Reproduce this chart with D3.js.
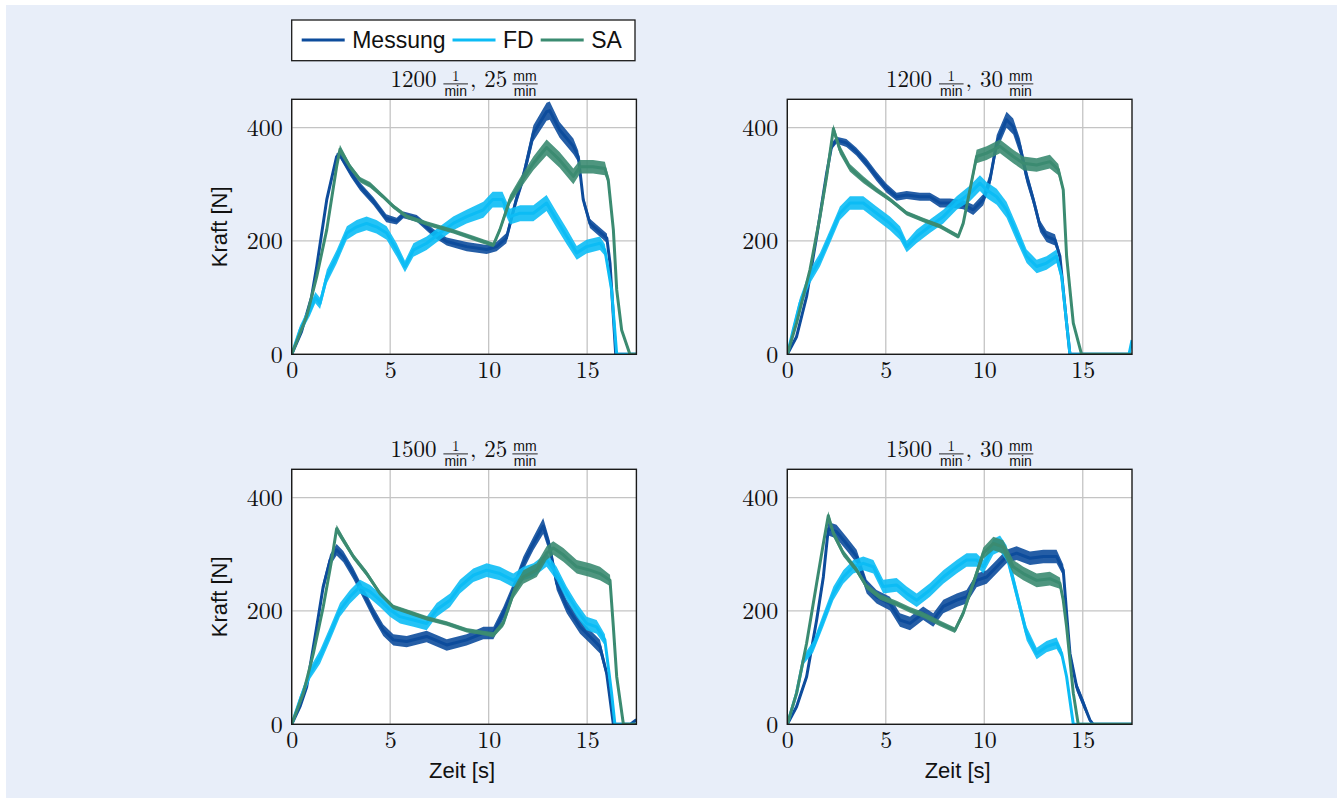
<!DOCTYPE html>
<html><head><meta charset="utf-8">
<script src="https://cdn.jsdelivr.net/npm/d3@7"></script>
<style>
html,body{margin:0;padding:0;background:#fff;}
svg{display:block;}
</style></head>
<body>
<svg id="c" width="1343" height="798"></svg>
<script>
// ---- data (time [s], force [N], noise half-width [N]) ----
const seriesNames = ["Messung", "FD", "SA"];
const seriesColors = ["#0d4c9c", "#0cbcf5", "#3b8b71"];
const xTicks = [0, 5, 10, 15];
const yTicks = [0, 200, 400];
const speeds = ["1200", "1200", "1500", "1500"];
const feeds = ["25", "30", "25", "30"];

const messung_1200_25 = [[0,0,2],[0.5,40,4],[1.0,100,5],[1.27,155,6],[1.78,273,6],[2.28,349,6],[2.45,352,6],[3.0,320,7],[3.47,296,7],[4.15,270,7],[4.8,240,7],[5.33,235,6],[5.67,246,6],[6.35,240,6],[7.2,214,7],[7.87,199,7],[8.88,190,8],[9.9,185,8],[10.4,190,8],[10.9,205,9],[11.4,273,10],[11.76,314,12],[12.27,390,14],[12.94,428,16],[13.1,430,16],[13.6,396,14],[14.3,367,14],[14.55,349,10],[14.8,273,8],[15.14,231,8],[15.5,220,8],[16.0,205,8],[16.16,161,5],[16.45,0,1],[17.5,0,0]];
const fd_1200_25 = [[0,0,2],[0.42,43,8],[0.93,78,10],[1.2,100,10],[1.44,90,10],[1.78,137,12],[2.28,172,12],[2.8,214,12],[3.3,225,12],[3.8,231,12],[4.3,225,12],[4.82,214,12],[5.33,184,12],[5.75,155,10],[6.18,184,12],[6.85,196,12],[7.53,214,12],[8.2,231,12],[8.88,243,12],[9.73,255,14],[10.2,273,14],[10.7,273,14],[11.08,243,14],[11.6,249,14],[12.27,249,14],[12.94,267,14],[13.45,237,14],[13.96,208,14],[14.47,179,12],[14.97,190,12],[15.65,196,12],[15.9,184,10],[16.24,114,5],[16.5,0,1],[17.5,0,0]];
const sa_1200_25 = [[0,0,2],[0.76,67,4],[1.27,137,4],[1.78,220,5],[2.28,331,6],[2.45,362,8],[2.96,331,5],[3.47,308,5],[3.98,299,5],[4.65,278,4],[5.16,261,4],[5.84,243,4],[6.85,231,4],[8.2,217,4],[9.22,205,4],[10.24,193,4],[10.57,220,5],[11.08,273,8],[11.6,302,10],[12.27,337,12],[12.94,365,14],[13.6,343,14],[14.3,314,14],[14.64,331,12],[15.3,331,12],[15.9,328,12],[16.07,308,8],[16.33,220,4],[16.5,114,3],[16.75,43,2],[17.17,0,1],[17.5,0,0]];

const messung_1200_30 = [[0,0,2],[0.47,31,4],[0.98,102,5],[1.49,208,6],[2.0,320,6],[2.25,367,6],[2.5,378,6],[3.0,373,7],[3.5,358,7],[4.03,337,8],[4.53,314,8],[5.04,293,8],[5.55,278,7],[6.06,281,7],[6.73,278,7],[7.24,278,7],[7.75,267,8],[8.26,267,8],[8.93,264,8],[9.44,255,9],[9.95,273,10],[10.29,308,12],[10.63,373,14],[11.13,414,14],[11.47,402,14],[11.81,367,14],[12.15,314,12],[12.49,273,10],[12.83,226,10],[13.16,208,10],[13.59,202,10],[13.84,173,8],[14.18,55,3],[14.35,0,1],[17.5,0,0]];
const fd_1200_30 = [[0,0,2],[0.3,43,8],[0.64,90,10],[1.15,137,12],[1.66,167,12],[2.17,208,12],[2.67,249,12],[3.18,267,12],[3.86,267,12],[4.53,249,12],[5.21,231,12],[5.72,214,12],[6.06,190,10],[6.56,208,12],[7.24,226,12],[7.92,243,12],[8.6,267,12],[9.27,284,14],[9.78,302,14],[10.12,290,14],[10.63,278,14],[11.13,255,14],[11.64,214,14],[12.15,173,12],[12.66,155,12],[13.16,161,12],[13.67,173,12],[13.93,137,8],[14.18,55,3],[14.35,0,1],[17.35,0,0],[17.5,25,0]];
const sa_1200_30 = [[0,0,2],[0.47,55,4],[1.15,149,5],[1.66,243,6],[2.0,314,8],[2.34,398,8],[2.67,361,8],[3.18,329,7],[3.86,308,6],[4.53,290,5],[5.21,273,4],[6.06,249,4],[6.9,237,4],[7.75,226,4],[8.68,208,4],[8.93,231,5],[9.27,290,8],[9.61,349,12],[10.12,355,12],[10.8,367,12],[11.47,349,12],[11.98,337,12],[12.66,334,12],[13.33,340,12],[13.76,326,10],[14.01,290,6],[14.18,173,4],[14.52,55,2],[14.94,0,1],[17.5,0,0]];

const messung_1500_25 = [[0,0,2],[0.42,31,4],[0.76,66,5],[1.27,172,8],[1.6,243,9],[1.95,290,10],[2.28,308,10],[2.62,296,10],[3.13,266,10],[3.64,231,10],[4.15,196,10],[4.65,166,10],[5.16,149,10],[5.84,146,10],[6.85,155,10],[7.87,140,10],[8.88,149,10],[9.73,161,11],[10.24,161,11],[10.74,196,11],[11.25,237,12],[11.76,284,12],[12.27,319,12],[12.77,350,14],[13.1,313,12],[13.45,249,12],[13.96,208,12],[14.64,172,12],[15.14,155,12],[15.65,137,12],[15.99,90,8],[16.33,0,1],[17.2,0,0],[17.5,8,0]];
const fd_1500_25 = [[0,0,2],[0.42,43,8],[0.93,90,10],[1.44,119,12],[1.95,160,12],[2.45,202,12],[2.96,225,12],[3.47,243,12],[3.98,234,12],[4.48,219,12],[4.99,202,12],[5.5,190,12],[6.18,184,12],[6.85,178,12],[7.36,202,12],[8.04,219,12],[8.54,243,12],[9.22,263,12],[9.9,272,12],[10.57,266,12],[11.25,254,12],[11.76,266,12],[12.27,272,12],[12.94,290,12],[13.45,266,12],[13.96,231,12],[14.47,202,12],[14.97,178,12],[15.48,172,12],[15.9,149,10],[16.24,55,3],[16.41,0,1],[17.5,0,0]];
const sa_1500_25 = [[0,0,2],[0.59,55,4],[1.1,125,5],[1.6,207,6],[2.03,290,6],[2.28,345,7],[2.62,325,6],[3.13,296,5],[3.81,266,5],[4.48,231,4],[5.16,207,4],[5.84,199,4],[6.85,187,4],[7.87,178,4],[8.88,166,4],[9.73,161,4],[10.24,158,5],[10.74,178,6],[11.25,231,9],[11.76,260,12],[12.44,272,12],[12.94,302,12],[13.28,311,12],[13.79,299,12],[14.47,278,12],[15.14,272,12],[15.65,266,12],[16.16,254,10],[16.33,172,4],[16.5,84,3],[16.84,0,1],[17.5,0,0]];

const messung_1500_30 = [[0,0,2],[0.47,31,4],[0.98,84,6],[1.49,184,8],[1.83,260,10],[2.08,345,12],[2.5,340,12],[3.0,319,12],[3.52,296,12],[4.03,243,12],[4.53,225,12],[5.21,213,12],[5.72,184,12],[6.23,178,12],[6.9,196,12],[7.41,184,12],[7.92,208,12],[8.6,219,12],[9.1,225,12],[9.61,254,12],[10.12,260,12],[10.63,278,12],[11.13,296,12],[11.64,302,12],[12.32,293,12],[13.0,296,12],[13.67,296,12],[14.01,272,10],[14.18,196,8],[14.35,125,8],[14.69,66,8],[15.03,37,8],[15.36,8,4],[15.53,0,1],[17.5,0,0]];
const fd_1500_30 = [[0,0,2],[0.47,55,6],[0.81,113,8],[1.32,137,10],[1.83,184,12],[2.34,231,12],[2.84,260,12],[3.35,278,12],[3.86,284,12],[4.37,278,12],[4.87,243,12],[5.55,246,12],[6.06,231,12],[6.57,219,12],[7.24,237,12],[7.92,260,12],[8.6,278,12],[9.1,290,12],[9.61,290,12],[9.95,278,12],[10.46,313,14],[10.8,319,14],[11.13,302,14],[11.64,231,12],[12.15,160,12],[12.66,125,10],[13.16,137,10],[13.67,143,10],[13.93,125,8],[14.18,84,4],[14.52,0,1],[17.5,0,0]];
const sa_1500_30 = [[0,0,2],[0.47,55,4],[0.98,143,5],[1.49,249,6],[1.83,319,7],[2.08,368,8],[2.34,337,7],[2.84,302,6],[3.52,272,5],[4.03,243,5],[4.7,225,5],[5.55,213,5],[6.23,202,5],[6.9,193,5],[7.75,178,5],[8.51,166,5],[8.93,196,6],[9.44,249,8],[9.95,302,10],[10.46,319,12],[10.96,313,12],[11.47,278,12],[11.98,266,12],[12.66,254,12],[13.33,257,12],[13.84,249,10],[14.01,219,6],[14.18,172,4],[14.52,55,2],[14.77,0,1],[17.5,0,0]];

const panelSeries = [
  [messung_1200_25, fd_1200_25, sa_1200_25],
  [messung_1200_30, fd_1200_30, sa_1200_30],
  [messung_1500_25, fd_1500_25, sa_1500_25],
  [messung_1500_30, fd_1500_30, sa_1500_30]
];

// ---- layout ----
const svg = d3.select("#c");
svg.append("rect").attr("x",6).attr("y",5).attr("width",1331).attr("height",793).attr("fill","#e8eef9");

const PW = 344.7, PH = 255;
const origins = [[291.7,99.3],[787.3,99.3],[291.7,469.3],[787.3,469.3]];
const serif = "'Latin Modern Roman','CMU Serif','Liberation Serif','Times New Roman',serif";
const sans = "'Liberation Sans',Arial,Helvetica,sans-serif";

const x = d3.scaleLinear().domain([0,17.5]).range([0,PW]);
const y = d3.scaleLinear().domain([0,450]).range([PH,0]);

const line = d3.line().x(d=>x(d[0])).y(d=>y(d[1]));
const area = d3.area().x(d=>x(d[0])).y0(d=>y(Math.max(0,d[1]-d[2]))).y1(d=>y(d[1]+d[2]));

const defs = svg.append("defs");
defs.append("clipPath").attr("id","clip").append("rect").attr("x",0).attr("y",-2).attr("width",PW).attr("height",PH+2);

function drawTitle(g, cx, baseline, speed, feed){
  const t = g.append("g");
  let cur = 0;
  function txt(s, font, size, dx){
    const e = t.append("text").attr("font-family",font).attr("font-size",size).attr("fill","#111").text(s)
      .attr("x",cur+(dx||0)).attr("y",baseline);
    cur += (dx||0) + e.node().getComputedTextLength();
    return e;
  }
  function frac(num, numFont, numSize, den, gap){
    const start = cur + gap;
    const n = t.append("text").attr("font-family",numFont).attr("font-size",numSize).attr("fill","#111").text(num);
    const d = t.append("text").attr("font-family",sans).attr("font-size",14).attr("fill","#111").text(den);
    const wn = n.node().getComputedTextLength(), wd = d.node().getComputedTextLength();
    const w = Math.max(wn,wd) + 2;
    const bar = baseline - 2.8;
    n.attr("x", start + (w-wn)/2).attr("y", bar - 2.6);
    d.attr("x", start + (w-wd)/2).attr("y", bar + 12);
    t.append("line").attr("x1",start).attr("x2",start+w).attr("y1",bar).attr("y2",bar).attr("stroke","#111").attr("stroke-width",0.9);
    cur = start + w;
  }
  txt(speed, serif, 23);
  frac("1", serif, 15, "min", 7);
  txt(",", serif, 23, 2);
  txt(feed, serif, 23, 8);
  frac("mm", sans, 14, "min", 5);
  const total = cur;
  t.attr("transform", `translate(${cx - total/2},0)`);
}

panelSeries.forEach((series, i) => {
  const [ox, oy] = origins[i];
  const g = svg.append("g").attr("transform",`translate(${ox},${oy})`);
  g.append("rect").attr("width",PW).attr("height",PH).attr("fill","#fff");
  // grid
  g.append("g").selectAll("line").data(xTicks).join("line")
    .attr("x1",d=>x(d)).attr("x2",d=>x(d)).attr("y1",0).attr("y2",PH)
    .attr("stroke","#c4c4c4").attr("stroke-width",1.3);
  g.append("g").selectAll("line").data(yTicks).join("line")
    .attr("x1",0).attr("x2",PW).attr("y1",d=>y(d)).attr("y2",d=>y(d))
    .attr("stroke","#c4c4c4").attr("stroke-width",1.3);
  // data
  const dg = g.append("g").attr("clip-path","url(#clip)");
  series.forEach((s, k) => {
    dg.append("path").datum(s).attr("d",area).attr("fill",seriesColors[k]).attr("opacity",0.9);
    dg.append("path").datum(s).attr("d",line).attr("fill","none").attr("stroke",seriesColors[k])
      .attr("stroke-width",3).attr("stroke-linejoin","round");
  });
  // frame
  g.append("rect").attr("width",PW).attr("height",PH).attr("fill","none").attr("stroke","#1a1a1a").attr("stroke-width",1.4);
  // axes labels via d3 axes
  const xa = g.append("g").attr("transform",`translate(0,${PH})`)
    .call(d3.axisBottom(x).tickValues(xTicks).tickSize(0).tickPadding(0).tickFormat(d3.format("d")));
  xa.select(".domain").remove();
  xa.selectAll("text").attr("font-family",serif).attr("font-size",24).attr("fill","#111").attr("dy",null).attr("y",24);
  const ya = g.append("g")
    .call(d3.axisLeft(y).tickValues(yTicks).tickSize(0).tickPadding(9).tickFormat(d3.format("d")));
  ya.select(".domain").remove();
  ya.selectAll("text").attr("font-family",serif).attr("font-size",24).attr("fill","#111").attr("dy","0.33em");

  drawTitle(svg, ox + PW/2, oy - 12.6, speeds[i], feeds[i]);

  if (i % 2 === 0) {
    svg.append("text").attr("transform",`translate(${ox-65},${oy+PH/2}) rotate(-90)`)
      .attr("text-anchor","middle").attr("font-family",sans).attr("font-size",22).attr("fill","#111").text("Kraft [N]");
  }
  if (i >= 2) {
    svg.append("text").attr("x",ox+PW/2 - 2).attr("y",oy+PH+53.7)
      .attr("text-anchor","middle").attr("font-family",sans).attr("font-size",22).attr("fill","#111").text("Zeit [s]");
  }
});

// legend
const lg = svg.append("g");
lg.append("rect").attr("x",291.7).attr("y",20).attr("width",343.3).attr("height",40.7)
  .attr("fill","#fff").attr("stroke","#1a1a1a").attr("stroke-width",1.3);
let lx = 301.7;
seriesNames.forEach((name, k) => {
  lg.append("line").attr("x1",lx).attr("x2",lx+43).attr("y1",40).attr("y2",40)
    .attr("stroke",seriesColors[k]).attr("stroke-width",3);
  const t = lg.append("text").attr("x",lx+50.5).attr("y",48).attr("font-family",sans).attr("font-size",23)
    .attr("fill","#111").text(name);
  lx = lx + 50.5 + t.node().getComputedTextLength() + 7;
});
</script>
</body></html>
